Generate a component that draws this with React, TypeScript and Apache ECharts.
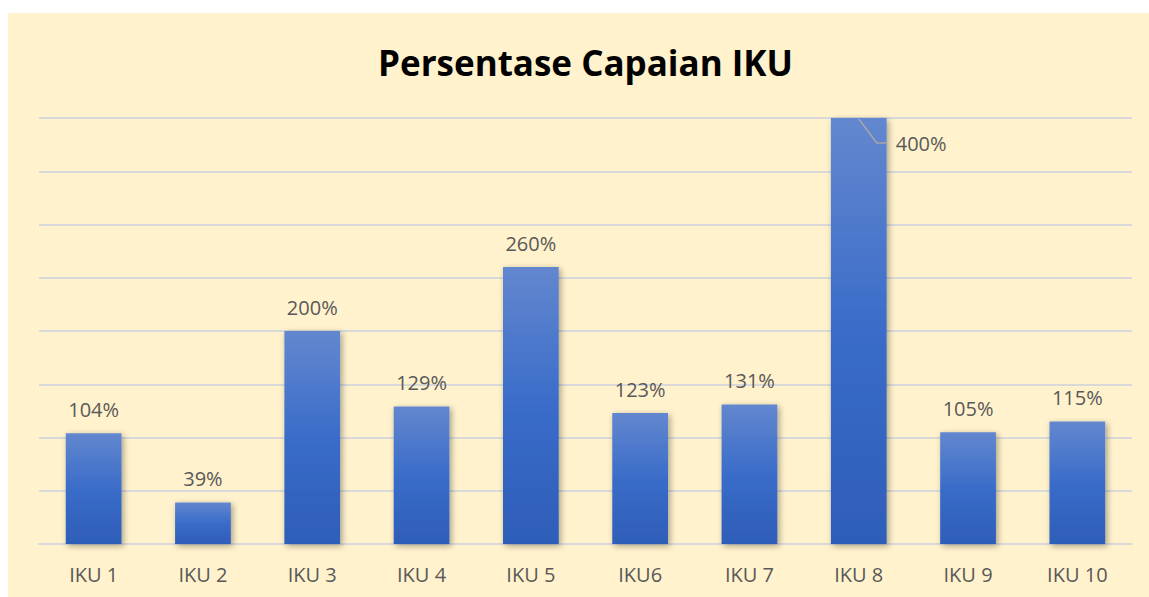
import React, { useEffect, useRef } from "react";
import * as echarts from "echarts";

const categories = ["IKU 1", "IKU 2", "IKU 3", "IKU 4", "IKU 5", "IKU6", "IKU 7", "IKU 8", "IKU 9", "IKU 10"];
const values = [104, 39, 200, 129, 260, 123, 131, 400, 105, 115];
const titleText = "Persentase Capaian IKU";
const outsideLabelIndex = 7;

export default function App() {
  const ref = useRef<HTMLDivElement>(null);
  useEffect(() => {
    const chart = echarts.init(ref.current!, null, { renderer: "svg" });
    const font = "'Open Sans', sans-serif";
    chart.setOption({
      animation: false,
      backgroundColor: "#FFF2CC",
      title: {
        text: titleText,
        left: 365,
        top: 27,
        textStyle: { fontFamily: font, fontWeight: "bold", fontSize: 35, color: "#000" },
      },
      grid: { left: 31, right: 17, top: 105, bottom: 53 },
      xAxis: {
        type: "category",
        data: categories,
        axisLine: { lineStyle: { color: "#D9D9D9", width: 2 } },
        axisTick: { show: false },
        axisLabel: { color: "#595959", fontFamily: font, fontSize: 20, margin: 20 },
      },
      yAxis: {
        type: "value",
        min: 0,
        max: 400,
        interval: 50,
        axisLabel: { show: false },
        axisLine: { show: false },
        axisTick: { show: false },
        splitLine: { lineStyle: { color: "#D9D9D9", width: 2 } },
      },
      series: [
        {
          type: "bar",
          data: values.map((v, i) =>
            i === outsideLabelIndex
              ? { value: v, labelLine: { show: true, lineStyle: { color: "#A6A6A6", width: 1.5, opacity: 0 } } }
              : v
          ),
          barCategoryGap: "49%",
          itemStyle: {
            color: new echarts.graphic.LinearGradient(0, 0, 0, 1, [
              { offset: 0, color: "#6387CF" },
              { offset: 0.5, color: "#3A6CC9" },
              { offset: 1, color: "#2E5DB8" },
            ]),
            shadowBlur: 6,
            shadowColor: "rgba(0,0,0,0.35)",
            shadowOffsetX: 2,
            shadowOffsetY: 2,
          },
          label: {
            show: true,
            position: "top",
            distance: 14,
            formatter: "{c}%",
            color: "#595959",
            fontFamily: font,
            fontSize: 20,
          },
          labelLine: { show: false },
          labelLayout: (params: any) => {
            if (params.dataIndex === outsideLabelIndex) {
              const r = params.rect;
              return {
                x: r.x + r.width / 2 + 37,
                y: r.y + 25,
                align: "left",
                verticalAlign: "middle",
              };
            }
            return {};
          },
        },
        {
          type: "custom",
          z: 10,
          silent: true,
          data: [[outsideLabelIndex, values[outsideLabelIndex]]],
          renderItem: (_params: any, api: any) => {
            const p = api.coord([api.value(0), api.value(1)]);
            return {
              type: "polyline",
              shape: {
                points: [
                  [p[0], p[1] + 1],
                  [p[0] + 18, p[1] + 25],
                  [p[0] + 28, p[1] + 25],
                ],
              },
              style: { stroke: "#A6A6A6", lineWidth: 1.5, fill: "none" },
            };
          },
        },
      ],
    });
    return () => chart.dispose();
  }, []);
  return (
    <div
      ref={ref}
      style={{ position: "absolute", left: 8, top: 13, width: 1141, height: 584 }}
    />
  );
}
